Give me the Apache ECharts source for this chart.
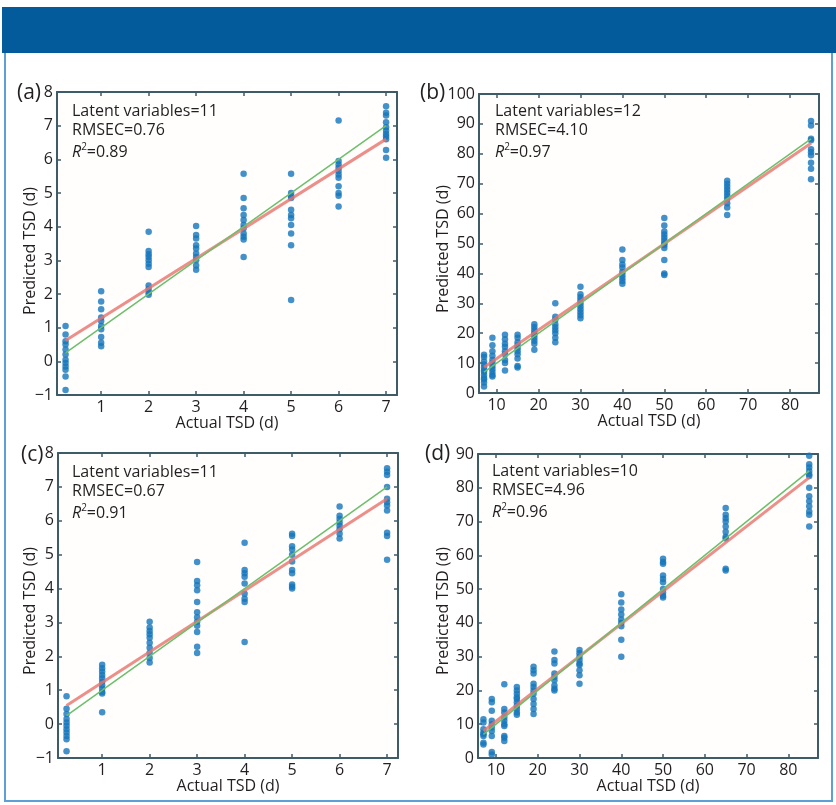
<!DOCTYPE html>
<html>
<head>
<meta charset="utf-8">
<script src="https://cdn.jsdelivr.net/npm/echarts@6/dist/echarts.min.js"></script>
<style>
html,body{margin:0;padding:0;background:#fff;}
#chart{width:836px;height:805px;}
</style>
</head>
<body>
<div id="chart"></div>
<script>
// ---------- DATA ----------
// Panel (a)
const xColsA = [0.25, 1, 2, 3, 4, 5, 6, 7];
const yColsA = [
  [1.05, 0.8, 0.6, 0.5, 0.35, 0.2, 0.05, -0.05, -0.15, -0.25, -0.45, -0.85],
  [2.08, 1.78, 1.55, 1.3, 1.2, 1.05, 0.95, 0.72, 0.55, 0.45],
  [3.85, 3.28, 3.18, 3.1, 3.0, 2.9, 2.8, 2.25, 2.15, 2.05, 1.98],
  [4.02, 3.75, 3.65, 3.45, 3.35, 3.2, 3.1, 3.0, 2.85, 2.72],
  [5.57, 4.85, 4.55, 4.35, 4.2, 4.05, 3.95, 3.8, 3.7, 3.62, 3.1],
  [5.57, 5.0, 4.9, 4.85, 4.5, 4.35, 4.25, 4.05, 3.8, 3.45, 1.82],
  [7.15, 5.95, 5.85, 5.75, 5.65, 5.55, 5.45, 5.2, 5.0, 4.92, 4.6],
  [7.58, 7.38, 7.3, 7.1, 6.95, 6.85, 6.75, 6.68, 6.6, 6.28, 6.05]
];
const fitXA = [0.25, 7];
const fitYA = [0.62, 6.6];
const infoA = ['Latent variables=11', 'RMSEC=0.76', '0.89'];

// Panel (b)
const xColsB = [7, 9, 12, 15, 19, 24, 30, 40, 50, 65, 85];
const yColsB = [
  [12.8, 12, 10.5, 9.5, 8.5, 7.5, 7, 6, 5, 4.5, 3.5, 2.2],
  [18.5, 16, 14, 12.5, 11, 10, 9, 8, 7, 6, 5.5],
  [19.5, 18, 16.5, 15.5, 14, 13, 11, 10, 7.5],
  [19.5, 18.5, 17, 16, 15, 14, 13, 11.5, 9, 8.5],
  [23, 22, 21, 20, 19.5, 18.5, 17.5, 16.5, 14.5],
  [30, 25.5, 24.5, 23, 22, 21, 20, 18.5, 17],
  [35.5, 33, 32, 31, 30, 29, 28, 27, 26, 25],
  [48, 44.5, 43, 42, 40.5, 39.5, 38.5, 37.5, 36.5],
  [58.5, 56, 54, 53, 52, 51, 50, 49.5, 48.5, 44.5, 40, 39.5],
  [71, 70, 69, 68, 67, 66, 65, 63.5, 62, 59.5],
  [91, 89.5, 85, 84.5, 81.5, 80.5, 79.5, 77, 75, 71.5]
];
const fitXB = [7, 85];
const fitYB = [8.6, 83.5];
const infoB = ['Latent variables=12', 'RMSEC=4.10', '0.97'];

// Panel (c)
const xColsC = [0.25, 1, 2, 3, 4, 5, 6, 7];
const yColsC = [
  [0.82, 0.45, 0.3, 0.15, 0.05, -0.05, -0.15, -0.25, -0.35, -0.45, -0.8],
  [1.75, 1.65, 1.55, 1.45, 1.35, 1.25, 1.15, 1.05, 0.95, 0.9, 0.35],
  [3.02, 2.85, 2.75, 2.65, 2.55, 2.4, 2.25, 2.1, 1.95, 1.82],
  [4.78, 4.22, 4.1, 3.95, 3.6, 3.3, 3.15, 3.02, 2.9, 2.72, 2.28, 2.1],
  [5.35, 4.55, 4.45, 4.35, 4.15, 3.85, 3.7, 3.6, 2.42],
  [5.62, 5.55, 5.25, 5.15, 5.0, 4.8, 4.55, 4.45, 4.12, 4.05, 4.0],
  [6.42, 6.15, 6.05, 5.95, 5.85, 5.75, 5.62, 5.48],
  [7.55, 7.45, 7.35, 7.0, 6.65, 6.55, 6.45, 6.3, 5.65, 5.55, 4.85]
];
const fitXC = [0.25, 7];
const fitYC = [0.55, 6.65];
const infoC = ['Latent variables=11', 'RMSEC=0.67', '0.91'];

// Panel (d)
const xColsD = [7, 9, 12, 15, 19, 24, 30, 40, 50, 65, 85];
const yColsD = [
  [11.5, 10.5, 8.5, 7.5, 7, 6.5, 4.5, 4],
  [17.5, 16.5, 14, 11, 10, 9, 8, 6.5, 1.8, 1],
  [21.8, 14.5, 13.5, 12, 11, 10, 9.5, 6.5, 6, 5],
  [21, 20, 19, 18, 17.5, 16.5, 15.5, 14.5, 13.5, 12.8],
  [27, 26, 25, 22, 21, 20, 19, 17.5, 16, 14.5, 13],
  [31.5, 29, 28, 25, 24, 23, 21.5, 20.5, 20],
  [32, 31, 30, 29, 28, 27.5, 26, 24.5, 22],
  [48.5, 46, 44, 42.5, 41, 40, 39, 35, 30],
  [59, 58, 57.5, 54, 53, 52, 50, 49, 48, 47.5],
  [74, 72, 71, 70, 68.5, 67, 65.5, 65, 56, 55.5],
  [89.5, 87, 86, 85, 84, 83.5, 80, 77.5, 76, 74.5, 73, 72, 68.5]
];
const fitXD = [7, 85];
const fitYD = [8, 83];
const infoD = ['Latent variables=10', 'RMSEC=4.96', '0.96'];

// Tick labels
const xTicksSmall = [1, 2, 3, 4, 5, 6, 7];
const xTicksLarge = [10, 20, 30, 40, 50, 60, 70, 80];
const panelLabels = ['(a)', '(b)', '(c)', '(d)'];
const xAxisTitle = 'Actual TSD (d)';
const yAxisTitle = 'Predicted TSD (d)';

// ---------- LAYOUT / STYLE ----------
const F = '"Open Sans", "Noto Sans", sans-serif';
const AX = '#3e5b68';
const TXT = '#231f20';
const PT = '#1575bb';
const FS = 16;

const panels = [
  {xs: xColsA, ys: yColsA, fx: fitXA, fy: fitYA, info: infoA, grid: {left: 57, top: 92, width: 340, height: 303},
   xmin: 0.07, xmax: 7.23, ymin: -1, ymax: 8, yint: 1, xt: xTicksSmall, yName: [30, 251], lab: [17, 93], txt: [72, 111]},
  {xs: xColsB, ys: yColsB, fx: fitXB, fy: fitYB, info: infoB, grid: {left: 479, top: 94, width: 340, height: 299},
   xmin: 5.8, xmax: 86.9, ymin: 0, ymax: 100, yint: 10, xt: xTicksLarge, yName: [443, 249], lab: [420, 93], txt: [495, 111]},
  {xs: xColsC, ys: yColsC, fx: fitXC, fy: fitYC, info: infoC, grid: {left: 58, top: 453, width: 340, height: 305},
   xmin: 0.07, xmax: 7.23, ymin: -1, ymax: 8, yint: 1, xt: xTicksSmall, yName: [30, 611], lab: [21, 455], txt: [72, 472]},
  {xs: xColsD, ys: yColsD, fx: fitXD, fy: fitYD, info: infoD, grid: {left: 478, top: 454, width: 340, height: 304},
   xmin: 5.7, xmax: 87.1, ymin: 0, ymax: 90, yint: 10, xt: xTicksLarge, yName: [443, 611], lab: [425, 454], txt: [492, 471]}
];

const grids = [], xAxes = [], yAxes = [], series = [], graphics = [];
const lineStyleAx = {color: AX, width: 2};
const tickStyle = {color: AX, width: 1.5};
const minusFmt = v => (v < 0 ? '\u2212' + Math.abs(v) : String(v));

panels.forEach((p, i) => {
  grids.push(Object.assign({show: true, backgroundColor: '#fffefd', borderWidth: 0}, p.grid));
  xAxes.push({
    type: 'value', gridIndex: i, position: 'bottom', min: p.xmin, max: p.xmax,
    axisLine: {show: true, onZero: false, lineStyle: lineStyleAx},
    axisTick: {show: true, inside: true, length: 4, lineStyle: tickStyle, customValues: p.xt},
    axisLabel: {show: true, customValues: p.xt, fontFamily: F, fontSize: FS, color: TXT, margin: 4},
    splitLine: {show: false},
    name: xAxisTitle, nameLocation: 'middle', nameGap: 18,
    nameTextStyle: {fontFamily: F, fontSize: FS, color: TXT}
  });
  xAxes.push({
    type: 'value', gridIndex: i, position: 'top', min: p.xmin, max: p.xmax,
    axisLine: {show: true, onZero: false, lineStyle: lineStyleAx},
    axisTick: {show: true, inside: true, length: 4, lineStyle: tickStyle, customValues: p.xt},
    axisLabel: {show: false, customValues: p.xt},
    splitLine: {show: false}
  });
  yAxes.push({
    type: 'value', gridIndex: i, position: 'left', min: p.ymin, max: p.ymax, interval: p.yint,
    axisLine: {show: true, onZero: false, lineStyle: lineStyleAx},
    axisTick: {show: true, inside: true, length: 4, lineStyle: tickStyle},
    axisLabel: {show: true, fontFamily: F, fontSize: FS, color: TXT, margin: 4, formatter: minusFmt},
    splitLine: {show: false}
  });
  yAxes.push({
    type: 'value', gridIndex: i, position: 'right', min: p.ymin, max: p.ymax, interval: p.yint,
    axisLine: {show: true, onZero: false, lineStyle: lineStyleAx},
    axisTick: {show: true, inside: true, length: 4, lineStyle: tickStyle},
    axisLabel: {show: false},
    splitLine: {show: false}
  });

  const pts = [];
  p.xs.forEach((x, k) => p.ys[k].forEach(y => pts.push([x, y])));
  series.push({
    type: 'scatter', xAxisIndex: 2 * i, yAxisIndex: 2 * i, data: pts,
    symbol: 'circle', symbolSize: 6.5, itemStyle: {color: PT}, z: 2, silent: true
  });
  series.push({
    type: 'line', xAxisIndex: 2 * i, yAxisIndex: 2 * i,
    data: p.fx.map((x, k) => [x, p.fy[k]]), symbol: 'none',
    lineStyle: {color: '#e8736c', width: 3, opacity: 0.8}, z: 3, silent: true
  });
  series.push({
    type: 'line', xAxisIndex: 2 * i, yAxisIndex: 2 * i,
    data: p.fx.map(x => [x, x]), symbol: 'none',
    lineStyle: {color: '#6dbf6a', width: 1.5}, z: 4, silent: true
  });

  graphics.push({type: 'text', x: p.yName[0], y: p.yName[1], rotation: Math.PI / 2, z: 10,
    style: {text: yAxisTitle, font: FS + 'px ' + F, fill: TXT, textAlign: 'center', textVerticalAlign: 'middle'}});
  graphics.push({type: 'text', x: p.lab[0], y: p.lab[1], z: 10,
    style: {text: panelLabels[i], font: '21px ' + F, fill: TXT, textVerticalAlign: 'middle'}});
  graphics.push({type: 'text', x: p.txt[0], y: p.txt[1], z: 10,
    style: {text: p.info[0], font: FS + 'px ' + F, fill: TXT, textVerticalAlign: 'middle'}});
  graphics.push({type: 'text', x: p.txt[0], y: p.txt[1] + 19, z: 10,
    style: {text: p.info[1], font: FS + 'px ' + F, fill: TXT, textVerticalAlign: 'middle'}});
  graphics.push({type: 'text', x: p.txt[0], y: p.txt[1] + 41, z: 10,
    style: {text: '{i|R}{s|2}{n|=' + p.info[2] + '}', textVerticalAlign: 'middle',
      rich: {
        i: {fontFamily: F, fontSize: FS, fontStyle: 'italic', fill: TXT},
        s: {fontFamily: F, fontSize: 10, fill: TXT, padding: [0, 0, 9, 0]},
        n: {fontFamily: F, fontSize: FS, fill: TXT}
      }}});
});

graphics.push({type: 'rect', shape: {x: 2, y: 7, width: 834, height: 46}, style: {fill: '#045b9c'}, z: 0});
graphics.push({type: 'polyline', shape: {points: [[5, 53], [5, 801], [832, 801], [832, 53]]},
  style: {stroke: '#5e9fd6', lineWidth: 2, fill: null}, z: 0});

const chart = echarts.init(document.getElementById('chart'), null, {renderer: 'canvas'});
chart.setOption({
  animation: false,
  backgroundColor: '#ffffff',
  grid: grids,
  xAxis: xAxes,
  yAxis: yAxes,
  series: series,
  graphic: graphics
});
</script>
</body>
</html>
